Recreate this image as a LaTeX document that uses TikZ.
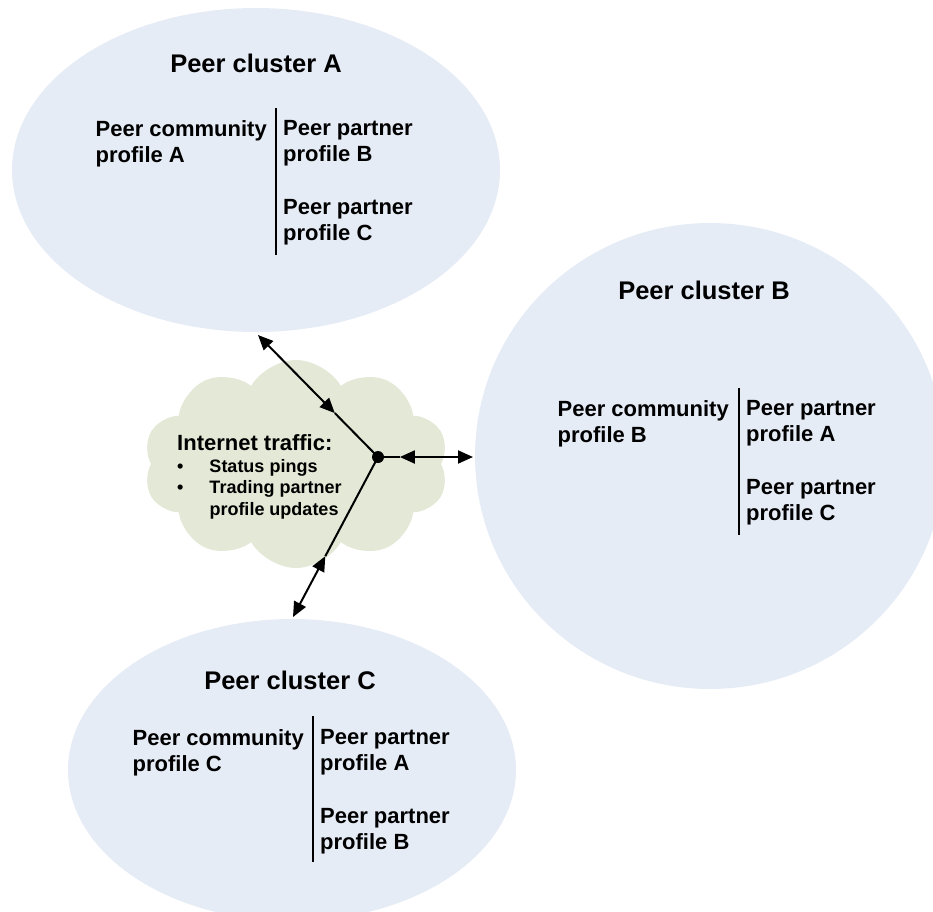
\documentclass[tikz,border=0pt]{standalone}
\usepackage{fontspec}
\setmainfont{Liberation Sans}
\usetikzlibrary{arrows.meta,calc,shapes.geometric,shapes.symbols}
\definecolor{clfill}{HTML}{E6ECF6}
\definecolor{netfill}{HTML}{E4E8D6}

\begin{document}
\begin{tikzpicture}[
  x=1pt,y=-1pt,
  cluster/.style={ellipse,fill=clfill,inner sep=0pt},
  cltitle/.style={font=\fontsize{25.5}{30}\selectfont\bfseries},
  prof/.style={font=\fontsize{22}{26.4}\selectfont\bfseries,align=left,inner sep=0pt},
  divider/.style={line width=2pt},
  link/.style={line width=2pt},
  arr/.style={link,{Triangle[length=15pt,width=13pt]}-{Triangle[length=15pt,width=13pt]}}
]
\useasboundingbox (0,0) rectangle (933,911);

% clusters and the internet cloud
\node[cluster,minimum width=488,minimum height=324] (clA) at (256,170) {};
\node[cluster,minimum width=470,minimum height=466] (clB) at (710,456) {};
\node[cluster,minimum width=448,minimum height=302] (clC) at (292,770) {};
\node[cloud,cloud puffs=10,cloud puff arc=120,aspect=1.5,fill=netfill,
  minimum width=305,minimum height=208,inner sep=0pt] (net) at (296,464) {};

% links from the hub out to each cluster
\node[circle,fill=black,minimum size=12pt,inner sep=0pt] (hub) at (378,457) {};
\coordinate (endA) at (258,335);
\coordinate (endB) at (473,457);
\coordinate (endC) at (293,617);
\coordinate (midA) at ($(hub)!0.36!(endA)$);
\coordinate (midB) at ($(hub)!0.23!(endB)$);
\coordinate (midC) at ($(hub)!0.62!(endC)$);
\draw[link] (hub.center) -- (midA); \draw[arr] (midA) -- (endA);
\draw[link] (hub.center) -- (midB); \draw[arr] (midB) -- (endB);
\draw[link] (hub.center) -- (midC); \draw[arr] (midC) -- (endC);

% cloud text
\node[font=\fontsize{22}{26}\selectfont\bfseries,anchor=north west,inner sep=0pt] (netttl) at (177,434) {Internet traffic:};
\node[font=\fontsize{18}{21.5}\selectfont\bfseries,anchor=north west,inner sep=0pt] (netlst) at (177,457)
  {\begin{tabular}{@{}l@{\hspace{26pt}}l@{}}\textbullet&Status pings\\\textbullet&Trading partner\\&profile updates\end{tabular}};

% cluster A
\node[cltitle] (ttlA) at (256,63) {Peer cluster A};
\draw[divider] (276,108) -- (276,255);
\node[prof,anchor=north east] (comA) at (267,120) {Peer community\\profile A};
\node[prof,anchor=north west] (ptnA) at (283,120) {Peer partner\\profile B\\[26.4pt]Peer partner\\profile C};

% cluster B
\node[cltitle] (ttlB) at (704,290) {Peer cluster B};
\draw[divider] (739,388) -- (739,535);
\node[prof,anchor=north east] (comB) at (729,400) {Peer community\\profile B};
\node[prof,anchor=north west] (ptnB) at (746,400) {Peer partner\\profile A\\[26.4pt]Peer partner\\profile C};

% cluster C
\node[cltitle] (ttlC) at (290,680) {Peer cluster C};
\draw[divider] (313,716) -- (313,862);
\node[prof,anchor=north east] (comC) at (304,729) {Peer community\\profile C};
\node[prof,anchor=north west] (ptnC) at (320,729) {Peer partner\\profile A\\[26.4pt]Peer partner\\profile B};
\end{tikzpicture}
\end{document}
